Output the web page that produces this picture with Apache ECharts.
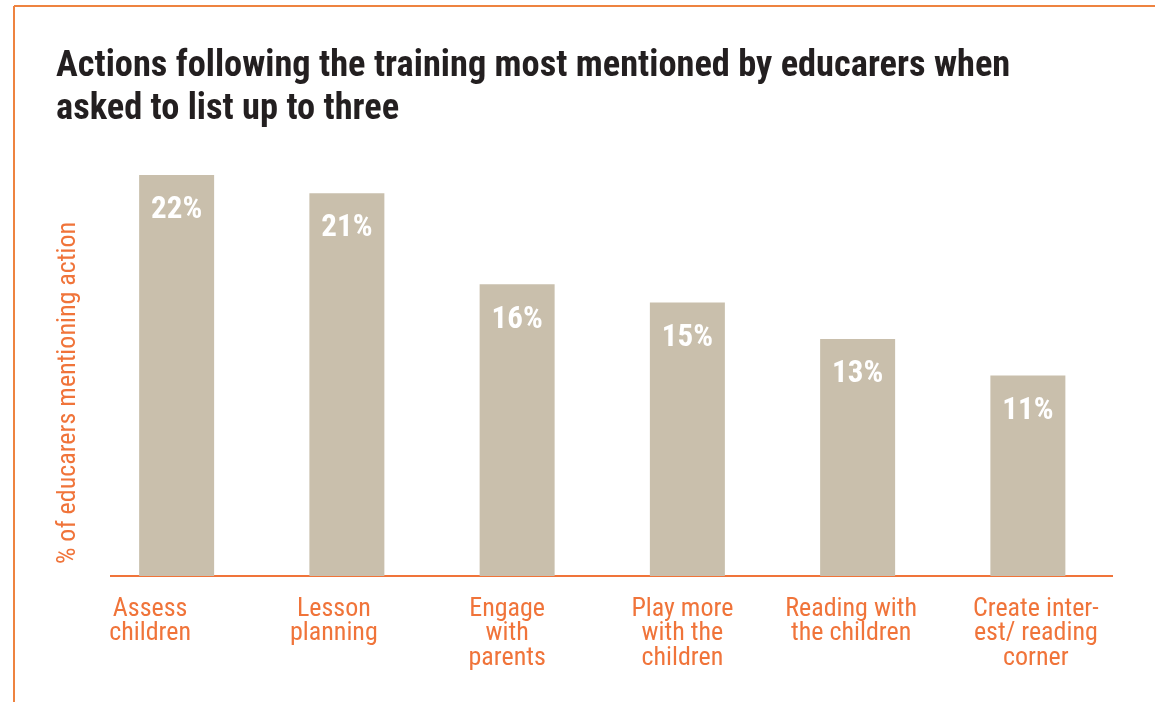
<!DOCTYPE html>
<html><head><meta charset="utf-8">
<script src="https://cdn.jsdelivr.net/npm/echarts@6/dist/echarts.min.js"></script>
<style>html,body{margin:0;padding:0;background:#fff}#c{width:1155px;height:702px}</style>
</head><body><div id="c"></div>
<script>
const categories = ["Assess\nchildren","Lesson\nplanning","Engage\nwith\nparents","Play more\nwith the\nchildren","Reading with\nthe children","Create inter-\nest/ reading\ncorner"];
const values = [22,21,16,15,13,11];
const titleText = "Actions following the training most mentioned by educarers when\nasked to list up to three";
const yName = "% of educarers mentioning action";
const FONT = '"Roboto Condensed","DejaVu Sans Condensed","Liberation Sans Narrow",Roboto,sans-serif';
const orange = '#F0743A';
const labelShift = [53,26,20,10,13,-16];
const chart = echarts.init(document.getElementById('c'));
chart.setOption({
  backgroundColor:'#fff',
  animation:false,
  title:{text:titleText,left:51,top:40,textStyle:{fontFamily:FONT,fontWeight:'bold',fontSize:36.4,lineHeight:43,color:'#231f20'}},
  grid:{left:91.5,right:42,top:0,bottom:126},
  xAxis:{type:'category',
    data:categories.map((c,i)=>({value:c,textStyle:{padding:labelShift[i]>0?[0,labelShift[i],0,0]:[0,0,0,-labelShift[i]]}})),
    axisLine:{show:false},axisTick:{show:false},
    axisLabel:{interval:0,color:orange,fontFamily:FONT,fontSize:26,lineHeight:24.5,margin:21,verticalAlign:'top'}},
  yAxis:{type:'value',min:0,max:31.6,show:true,axisLine:{show:false},axisTick:{show:false},axisLabel:{show:false},splitLine:{show:false},
    name:yName,nameLocation:'middle',nameRotate:90,nameGap:10,
    nameTextStyle:{color:orange,fontFamily:FONT,fontSize:26,padding:[0,210,0,0]}},
  series:[{type:'bar',data:values,barWidth:75,itemStyle:{color:'#C9BFAC'},
    label:{show:true,position:'insideTop',distance:20,formatter:'{c}%',color:'#fff',fontFamily:FONT,fontWeight:'bold',fontSize:31}}],
  graphic:[
    {type:'line',shape:{x1:14,y1:6,x2:1155,y2:6},style:{stroke:'#EE8340',lineWidth:2}},
    {type:'line',shape:{x1:14,y1:6,x2:14,y2:702},style:{stroke:'#EE8340',lineWidth:2}},
    {type:'line',shape:{x1:110,y1:576,x2:1113,y2:576},style:{stroke:orange,lineWidth:2}}
  ]
});
</script></body></html>
